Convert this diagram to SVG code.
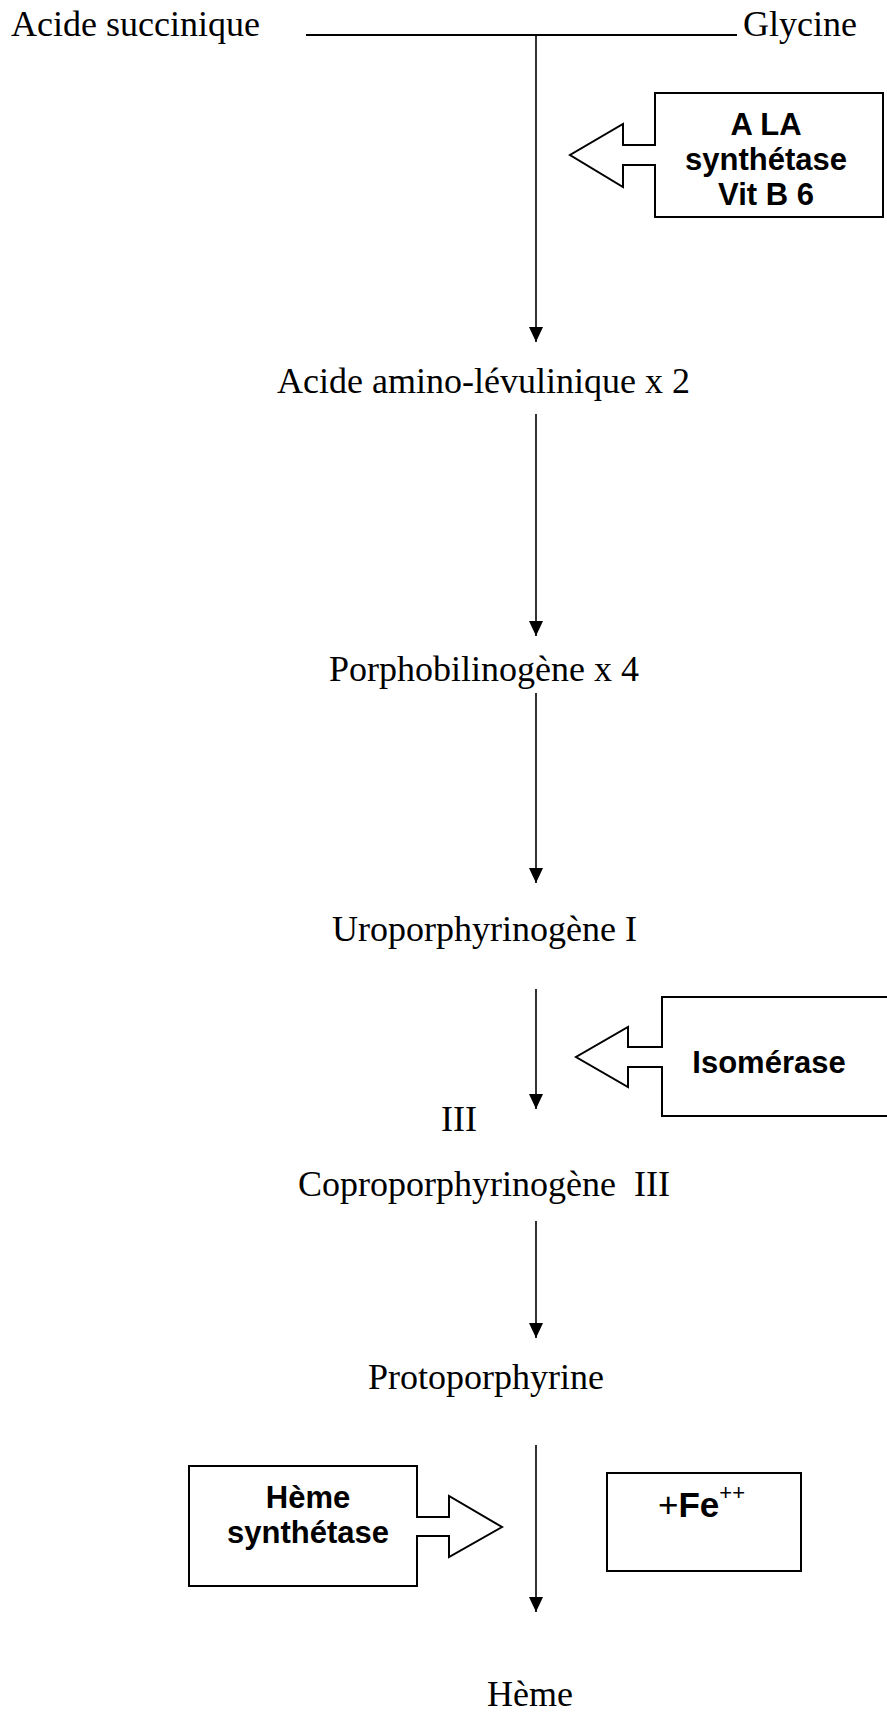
<svg xmlns="http://www.w3.org/2000/svg" width="887" height="1717" viewBox="0 0 887 1717">
  <style>
    .lbl { font-family: "Liberation Serif", "Times New Roman", serif; font-size: 36px; fill: #000; }
    .enz { font-family: "Liberation Sans", Arial, sans-serif; font-size: 31px; font-weight: bold; fill: #000; text-anchor: middle; }
    .box { fill: #fff; stroke: #000; stroke-width: 2; }
    .conn { fill: none; stroke: #000; stroke-width: 1.6; }
  </style>
  <defs>
    <marker id="head" viewBox="0 0 15 14" refX="15" refY="7" markerWidth="15" markerHeight="14" markerUnits="userSpaceOnUse" orient="auto">
      <path d="M0,0 L15,7 L0,14 Z" fill="#000"/>
    </marker>
  </defs>

  <rect width="887" height="1717" fill="#fff"/>

  <!-- connectors -->
  <g id="connectors">
    <line x1="306" y1="35" x2="737" y2="35" stroke="#000" stroke-width="2.2"/>
    <line class="conn" x1="536" y1="35" x2="536" y2="342" marker-end="url(#head)"/>
    <line class="conn" x1="536" y1="414" x2="536" y2="636" marker-end="url(#head)"/>
    <line class="conn" x1="536" y1="693" x2="536" y2="883" marker-end="url(#head)"/>
    <line class="conn" x1="536" y1="989" x2="536" y2="1109" marker-end="url(#head)"/>
    <line class="conn" x1="536" y1="1221" x2="536" y2="1338" marker-end="url(#head)"/>
    <line class="conn" x1="536" y1="1445" x2="536" y2="1612" marker-end="url(#head)"/>
  </g>

  <!-- pathway compounds -->
  <g id="acide-succinique"><text class="lbl" x="11" y="36" font-size="37">Acide succinique</text></g>
  <g id="glycine"><text class="lbl" x="743" y="36" font-size="37">Glycine</text></g>
  <g id="ala"><text class="lbl" x="277" y="393">Acide amino-lévulinique x 2</text></g>
  <g id="porphobilinogene"><text class="lbl" x="329" y="681">Porphobilinogène x 4</text></g>
  <g id="uroporphyrinogene"><text class="lbl" x="332" y="941">Uroporphyrinogène I</text></g>
  <g id="iii"><text class="lbl" x="441" y="1131">III</text></g>
  <g id="coproporphyrinogene"><text class="lbl" x="298" y="1196" xml:space="preserve">Coproporphyrinogène  III</text></g>
  <g id="protoporphyrine"><text class="lbl" x="368" y="1389">Protoporphyrine</text></g>
  <g id="heme"><text class="lbl" x="487" y="1706">Hème</text></g>

  <!-- enzyme: ALA synthetase -->
  <g id="ala-synthetase">
    <rect class="box" x="655" y="93" width="228" height="124"/>
    <path class="box" d="M656,145 L623,145 L623,124 L570,155 L623,187 L623,165 L656,165"/>
    <text class="enz" x="766" y="135">A LA</text>
    <text class="enz" x="766" y="170">synthétase</text>
    <text class="enz" x="766" y="205">Vit B 6</text>
  </g>

  <!-- enzyme: isomerase -->
  <g id="isomerase">
    <path class="box" d="M895,997 L662,997 L662,1047 L628,1047 L628,1027 L576,1057 L628,1087 L628,1067 L662,1067 L662,1116 L895,1116"/>
    <text class="enz" x="769" y="1073">Isomérase</text>
  </g>

  <!-- enzyme: heme synthetase -->
  <g id="heme-synthetase">
    <rect class="box" x="189" y="1466" width="228" height="120"/>
    <path class="box" d="M416,1517 L449,1517 L449,1496 L502,1527 L449,1557 L449,1536 L416,1536"/>
    <text class="enz" x="308" y="1508">Hème</text>
    <text class="enz" x="308" y="1543">synthétase</text>
  </g>

  <!-- cofactor: iron -->
  <g id="fer">
    <rect class="box" x="607" y="1473" width="194" height="98"/>
    <text x="658" y="1517" font-family="Liberation Sans, Arial, sans-serif" font-size="35"><tspan>+</tspan><tspan font-weight="bold">Fe</tspan><tspan font-size="22" dy="-17">++</tspan></text>
  </g>
</svg>
